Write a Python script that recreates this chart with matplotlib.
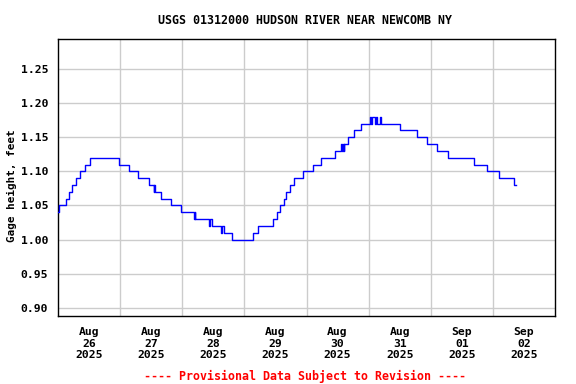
import matplotlib
matplotlib.use("Agg")
import matplotlib.pyplot as plt
import pandas as pd

title = "USGS 01312000 HUDSON RIVER NEAR NEWCOMB NY"
ylabel = "Gage height, feet"
footer = "---- Provisional Data Subject to Revision ----"
start = "2025-08-26 00:00"

# hours since start at which the gage height changes, and the new value
hours = [0, 0.25, 3.1, 4.4, 5.55, 7.1, 8.4, 10.6, 12.4, 23.6, 27.5, 31.0, 35.0,
         37.0, 37.25, 37.5, 39.9, 43.5, 47.6, 52.5, 52.75, 53.0,
         58.2, 58.75, 59.3, 63.1, 63.5, 64.0, 67.3, 75.2, 77.1, 83.0, 84.65,
         85.7, 87.2, 88.0, 89.55, 91.35, 94.6, 98.45, 101.55, 107.0,
         109.3, 109.6, 110.0, 110.3, 110.5, 111.9, 114.3, 117.2,
         120.6, 121.0, 121.25, 122.6, 122.85, 123.1, 124.4, 124.65,
         132.1, 138.8, 142.7, 146.3, 150.8, 160.8, 165.7, 170.45, 176.0, 176.8]
values = [1.04, 1.05, 1.06, 1.07, 1.08, 1.09, 1.10, 1.11, 1.12, 1.11, 1.10, 1.09, 1.08,
          1.07, 1.08, 1.07, 1.06, 1.05, 1.04, 1.03, 1.04, 1.03,
          1.02, 1.03, 1.02, 1.01, 1.02, 1.01, 1.00, 1.01, 1.02, 1.03, 1.04,
          1.05, 1.06, 1.07, 1.08, 1.09, 1.10, 1.11, 1.12, 1.13,
          1.14, 1.13, 1.14, 1.13, 1.14, 1.15, 1.16, 1.17,
          1.18, 1.17, 1.18, 1.17, 1.18, 1.17, 1.18, 1.17,
          1.16, 1.15, 1.14, 1.13, 1.12, 1.11, 1.10, 1.09, 1.08, 1.08]

yticks = [0.90, 0.95, 1.00, 1.05, 1.10, 1.15, 1.20, 1.25]
tick_days = ["2025-08-26", "2025-08-27", "2025-08-28", "2025-08-29",
             "2025-08-30", "2025-08-31", "2025-09-01", "2025-09-02"]

base = pd.Timestamp(start)
times = [base + pd.Timedelta(hours=h) for h in hours]

font = {"family": "DejaVu Sans Mono", "weight": "bold"}

fig = plt.figure(figsize=(5.76, 3.84), dpi=100)
ax = fig.add_axes([58/576, 1-316/384, (555-58)/576, (316-39)/384])

ax.plot(times, values, drawstyle="steps-post", color="#0000ff", lw=1.0, zorder=3)

ax.set_xlim(base, base + pd.Timedelta(days=8))
ax.set_ylim(0.888, 1.294)

grid_days = [pd.Timestamp(d) for d in tick_days[1:]]
for g in grid_days:
    ax.axvline(g, color="#cccccc", lw=1.0, zorder=1)
for y in yticks:
    ax.axhline(y, color="#cccccc", lw=1.0, zorder=1)

label_pos = [pd.Timestamp(d) + pd.Timedelta(hours=12) for d in tick_days]
ax.set_xticks(label_pos)
ax.set_xticklabels([pd.Timestamp(d).strftime("%b\n%d\n%Y") for d in tick_days],
                   fontdict=font, fontsize=8.2, linespacing=1.2)
ax.set_yticks(yticks)
ax.set_yticklabels([f"{v:.2f}" for v in yticks], fontdict=font, fontsize=8.2)
ax.tick_params(axis="both", length=0, pad=7)
ax.tick_params(axis="x", pad=8)

for s in ax.spines.values():
    s.set_linewidth(1.0)
    s.set_color("black")

fig.text(12/576, 1-186/384, ylabel, rotation=90, ha="center", va="center",
         fontsize=7.9, **font)
fig.text(305/576, 1-20/384, title, ha="center", va="center", fontsize=8.4, **font)
fig.text(305/576, 1-376/384, footer, ha="center", va="center", fontsize=8.4,
         color="red", **font)

fig.savefig("out.png", dpi=100)
